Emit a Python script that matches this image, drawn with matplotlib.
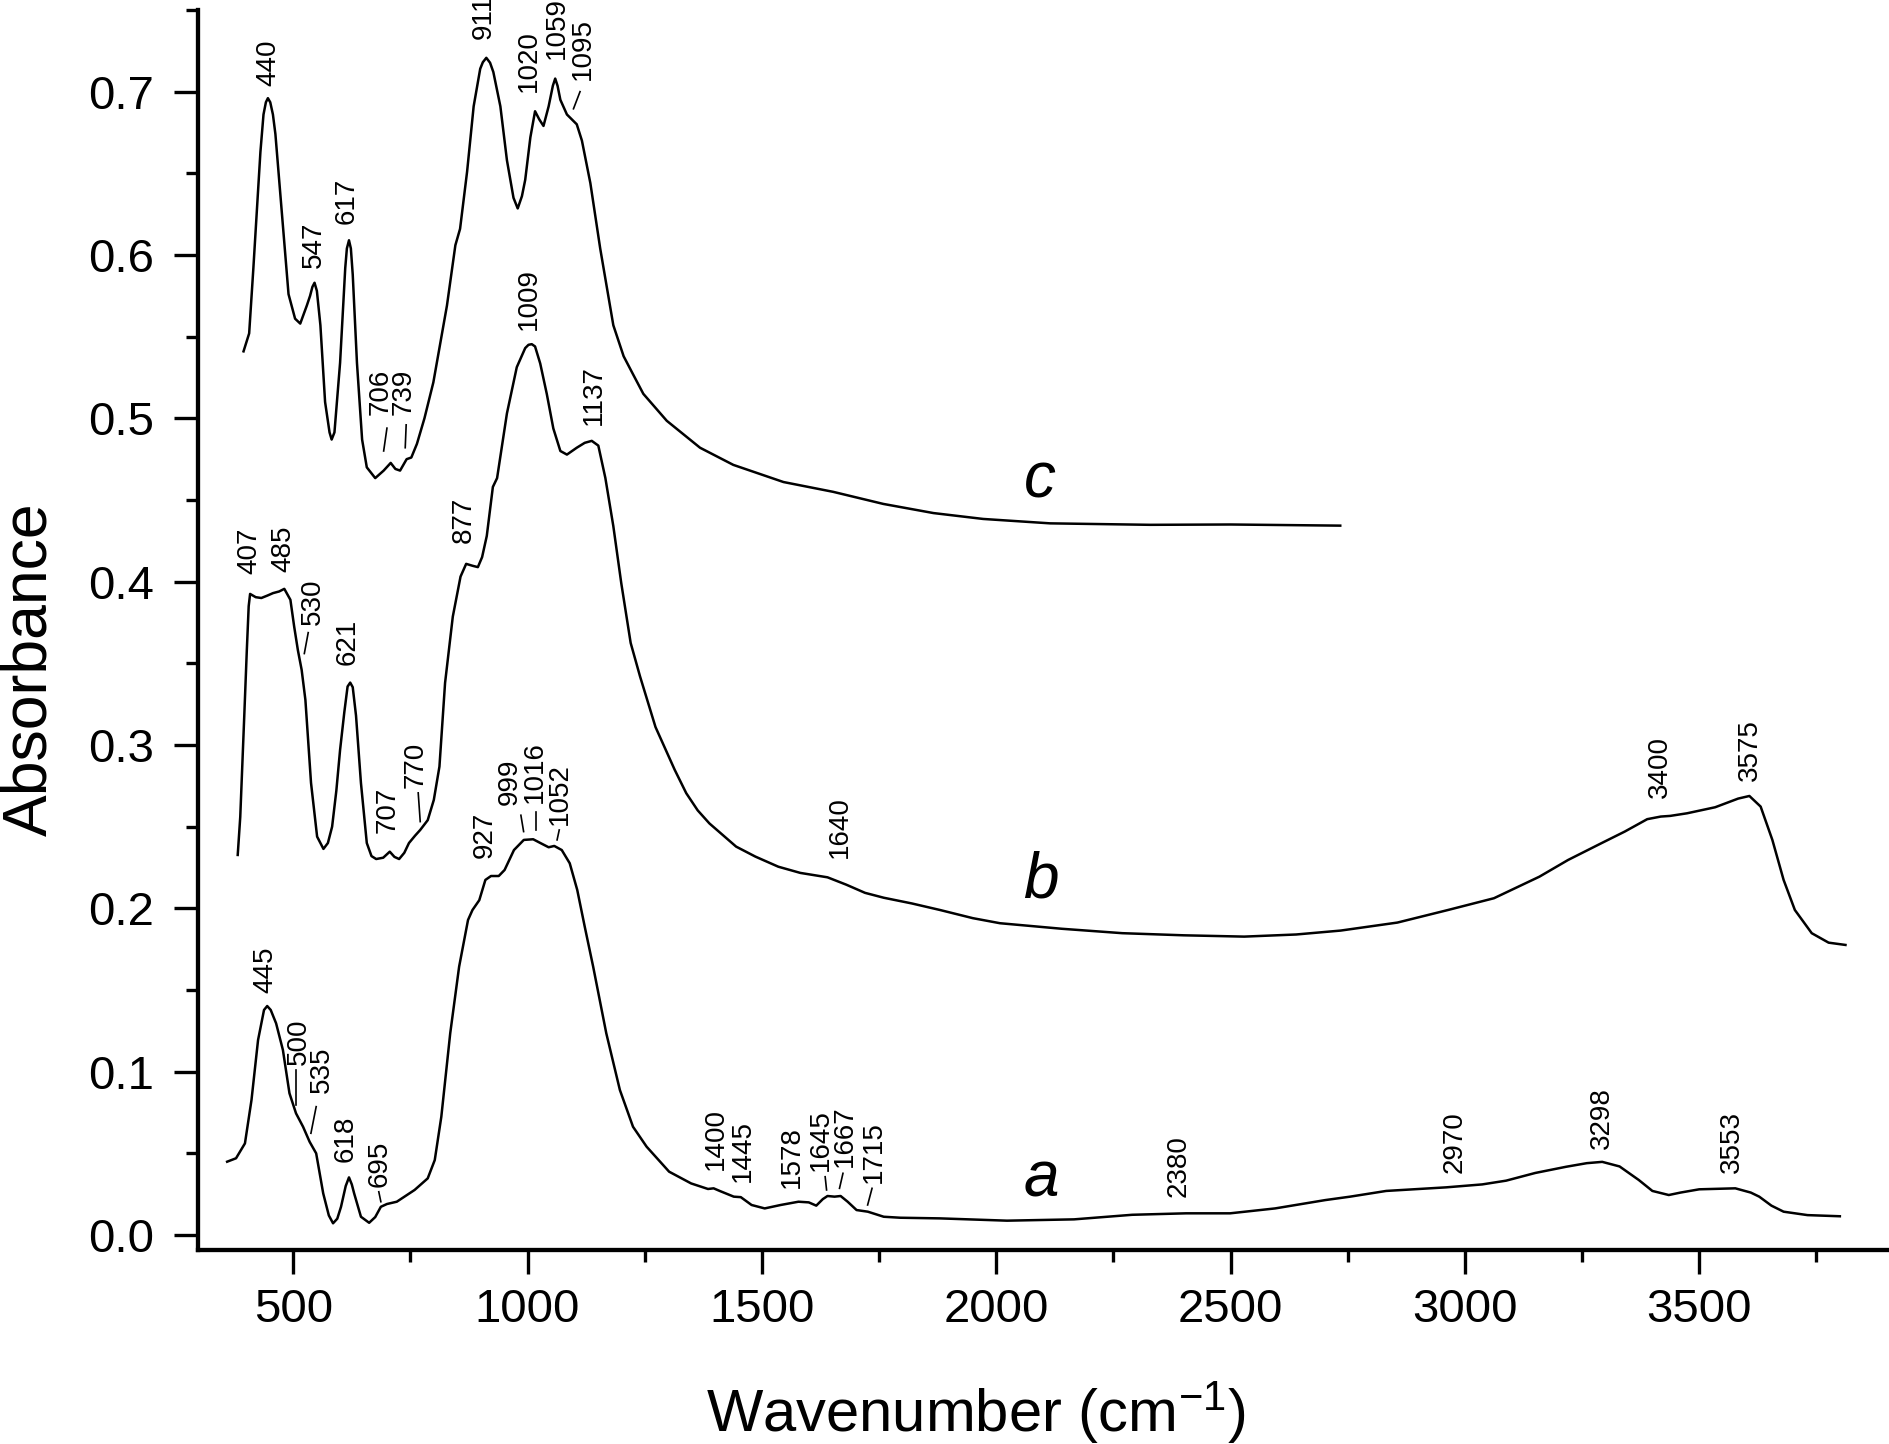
import numpy as np
import matplotlib
matplotlib.use('Agg')
import matplotlib.pyplot as plt
from matplotlib.ticker import MultipleLocator

# spectra: wavenumber (cm-1) and absorbance
wn_a = [359, 378, 397, 411, 425, 437.7, 444.5, 452, 463.5, 478, 492, 506, 521, 535, 549,
        564, 576, 585, 594, 602, 612, 619, 625, 630, 644.5, 662, 675, 687, 700, 721,
        759, 787, 802, 816, 835, 854, 873, 882.5, 897, 910, 922, 938.5, 951, 971, 992,
        1012, 1028, 1045, 1057, 1073, 1090, 1106, 1122, 1140, 1168, 1197, 1225, 1254,
        1302, 1349, 1385, 1397, 1410, 1440, 1455, 1478, 1506, 1540, 1578, 1600, 1616,
        1630, 1640, 1655, 1668, 1683, 1702, 1726, 1760, 1795, 1880, 2023, 2166, 2290,
        2405, 2499, 2595, 2702, 2755, 2832, 2960, 3037, 3088, 3150, 3216, 3260, 3293,
        3330, 3371, 3400, 3435, 3460, 3500, 3577, 3610, 3628, 3654, 3680, 3731, 3800]
abs_a = [0.0449, 0.047, 0.0561, 0.0827, 0.1194, 0.1378, 0.1402, 0.1378, 0.1296, 0.1133,
         0.0868, 0.0745, 0.0663, 0.0571, 0.050, 0.0255, 0.012, 0.0072, 0.010, 0.0173,
         0.030, 0.0353, 0.031, 0.0255, 0.0112, 0.0075, 0.011, 0.0173, 0.019, 0.0204,
         0.0276, 0.0347, 0.0459, 0.0724, 0.1235, 0.1643, 0.1929, 0.199, 0.205, 0.2174,
         0.2198, 0.2198, 0.2235, 0.2357, 0.2419, 0.2423, 0.2399, 0.2374, 0.2382, 0.2357,
         0.2276, 0.2113, 0.1888, 0.1643, 0.1235, 0.0888, 0.0663, 0.0541, 0.0388, 0.0316,
         0.0282, 0.0286, 0.027, 0.0235, 0.0232, 0.0184, 0.0163, 0.0184, 0.0204, 0.020,
         0.018, 0.022, 0.0239, 0.0235, 0.0239, 0.0204, 0.0153, 0.0143, 0.0112, 0.0106,
         0.0102, 0.0088, 0.0096, 0.0124, 0.0133, 0.0133, 0.0163, 0.0214, 0.0235, 0.027,
         0.0292, 0.031, 0.0333, 0.038, 0.0418, 0.044, 0.0448, 0.042, 0.0337, 0.027,
         0.0245, 0.026, 0.028, 0.0286, 0.026, 0.0235, 0.018, 0.0143, 0.0122, 0.0115]

wn_b = [381.6, 387, 395.5, 401, 405, 408, 420, 432, 445, 457, 470, 481, 494, 502, 510,
        518, 526, 538, 551, 564.5, 574, 583, 592, 600, 609, 616, 621.6, 627, 634, 644.5,
        657, 667, 677, 692, 706, 716, 726, 737, 747, 760, 771, 787, 800, 812, 824, 840.5,
        857, 869, 883, 894, 903, 913, 926, 935, 956, 977, 995, 1002, 1009, 1016, 1027,
        1041, 1055, 1070, 1084, 1105, 1122, 1137, 1151, 1166, 1183, 1200, 1220, 1240,
        1273, 1314, 1338.6, 1363, 1388, 1445, 1486, 1535, 1582, 1640, 1680, 1720, 1760,
        1820, 1880, 1950, 2008, 2140, 2269, 2400, 2529, 2640, 2735, 2856, 2964, 3062,
        3159, 3220, 3292, 3341, 3389, 3418, 3438, 3474, 3534, 3583, 3607, 3631, 3656,
        3680, 3704, 3740, 3776, 3812]
abs_b = [0.2327, 0.256, 0.3174, 0.358, 0.385, 0.3925, 0.3905, 0.390, 0.3915, 0.393,
         0.394, 0.3956, 0.3889, 0.3726, 0.358, 0.346, 0.3276, 0.2768, 0.2439, 0.2364,
         0.240, 0.250, 0.272, 0.297, 0.320, 0.3358, 0.3382, 0.3354, 0.318, 0.2768, 0.240,
         0.232, 0.2302, 0.231, 0.2347, 0.2315, 0.2302, 0.234, 0.240, 0.2445, 0.248, 0.254,
         0.2664, 0.2868, 0.338, 0.3786, 0.4031, 0.4109, 0.4097, 0.4089, 0.415, 0.428,
         0.458, 0.4634, 0.503, 0.5313, 0.543, 0.545, 0.5454, 0.544, 0.5336, 0.515, 0.4938,
         0.480, 0.4778, 0.482, 0.485, 0.4862, 0.4833, 0.4635, 0.434, 0.399, 0.3625,
         0.342, 0.311, 0.2848, 0.2705, 0.260, 0.252, 0.2378, 0.2317, 0.2255, 0.2217,
         0.219, 0.2145, 0.2095, 0.2065, 0.203, 0.199, 0.194, 0.1909, 0.1875, 0.1848,
         0.1835, 0.1827, 0.184, 0.1864, 0.1913, 0.199, 0.2062, 0.2194, 0.2296, 0.240,
         0.247, 0.2546, 0.2562, 0.2566, 0.2582, 0.2619, 0.2672, 0.2688, 0.2623, 0.2419,
         0.2174, 0.199, 0.1848, 0.179, 0.1776]

wn_c = [394, 406, 415, 430, 436.6, 441.7, 446, 451, 456.7, 462, 476, 490, 504, 515, 529,
        536, 541, 545.5, 550.5, 558, 568, 577.5, 582, 588, 600, 611, 614.5, 619, 623, 627,
        636, 647, 657, 675, 693, 708, 718, 728, 742, 752, 764, 780, 799, 828, 846, 856,
        871, 885, 899, 904.6, 912, 920, 927, 942, 956, 970, 979, 988, 995, 1006, 1016,
        1025, 1034, 1045, 1054, 1059, 1064, 1070, 1084, 1105, 1116, 1134, 1155, 1183,
        1205, 1225, 1247, 1297, 1368, 1439, 1546, 1652, 1759, 1866, 1972, 2115, 2329,
        2500, 2734]
abs_c = [0.541, 0.552, 0.592, 0.663, 0.686, 0.6935, 0.696, 0.6935, 0.686, 0.674, 0.625,
         0.576, 0.561, 0.558, 0.569, 0.575, 0.5805, 0.583, 0.578, 0.557, 0.510, 0.4914,
         0.487, 0.4914, 0.534, 0.592, 0.604, 0.609, 0.604, 0.588, 0.534, 0.487, 0.470,
         0.4634, 0.468, 0.4727, 0.469, 0.468, 0.475, 0.476, 0.4844, 0.500, 0.522, 0.569,
         0.606, 0.616, 0.651, 0.691, 0.714, 0.718, 0.7207, 0.7177, 0.712, 0.691, 0.658,
         0.635, 0.6285, 0.636, 0.646, 0.672, 0.688, 0.683, 0.679, 0.691, 0.7036, 0.708,
         0.7036, 0.695, 0.686, 0.680, 0.670, 0.644, 0.604, 0.557, 0.538, 0.527, 0.515,
         0.4985, 0.482, 0.4715, 0.461, 0.455, 0.4476, 0.442, 0.4384, 0.4357, 0.4348,
         0.435, 0.4343]

# band labels: text, wavenumber, absorbance at the foot of the label
band_labels = [
    ('440', 447, 0.7036), ('547', 543, 0.592), ('617', 614.5, 0.619),
    ('706', 685.6, 0.502), ('739', 735, 0.502), ('911', 906, 0.732),
    ('1020', 1002, 0.700), ('1059', 1062.6, 0.720), ('1095', 1119, 0.707),
    ('407', 406, 0.405), ('485', 479.5, 0.406), ('530', 542.5, 0.3735),
    ('621', 616, 0.349), ('707', 701.6, 0.246), ('770', 761, 0.2735),
    ('877', 863, 0.4235), ('1009', 1002, 0.554), ('1137', 1140.7, 0.496),
    ('1640', 1667, 0.2306), ('3400', 3417, 0.2674), ('3575', 3608, 0.2782),
    ('445', 439.6, 0.1484), ('500', 511, 0.104), ('535', 560.6, 0.0868),
    ('618', 611, 0.0449), ('695', 684.6, 0.0296), ('927', 909.7, 0.2307),
    ('999', 961, 0.2633), ('1016', 1016, 0.2643), ('1052', 1069, 0.251),
    ('1400', 1401.7, 0.0398), ('1445', 1459, 0.0327), ('1578', 1563.7, 0.0286),
    ('1645', 1625.5, 0.0394), ('1667', 1678, 0.0418), ('1715', 1739.7, 0.0317),
    ('2380', 2390, 0.0235), ('2970', 2977, 0.0378), ('3298', 3293, 0.0525),
    ('3553', 3569, 0.0378),
]

# short leader lines between some labels and the curve
leaders = [
    ((700, 693), (0.494, 0.480)), ((741, 739), (0.496, 0.482)),
    ((1112, 1098), (0.700, 0.6895)), ((532, 523.7), (0.3688, 0.356)),
    ((766.7, 771), (0.2707, 0.2531)), ((506.4, 506.4), (0.101, 0.0796)),
    ((549, 537.8), (0.0786, 0.0623)), ((682.6, 687), (0.0265, 0.0204)),
    ((985.8, 991.6), (0.257, 0.247)), ((1018.5, 1018.5), (0.259, 0.248)),
    ((1067.6, 1063), (0.248, 0.2419)), ((1635, 1638), (0.0357, 0.0276)),
    ((1673, 1665.6), (0.0378, 0.0286)), ((1735, 1725.6), (0.0286, 0.0184)),
]

# curve names and where they sit
curve_names = [('a', 2096, 0.0235), ('b', 2096, 0.2064), ('c', 2094, 0.4516)]


def setupStyle():
    plt.rcParams['font.family'] = ['Liberation Sans', 'DejaVu Sans']
    plt.rcParams['mathtext.fontset'] = 'custom'
    plt.rcParams['mathtext.rm'] = 'Liberation Sans'
    plt.rcParams['mathtext.it'] = 'Liberation Sans:italic'


def makeGraph():
    fig = plt.figure(figsize=(18.9, 14.44), dpi=100)
    ax = fig.add_axes([0.1048, 0.1343, 0.8952, 0.8588])

    for wn, ab in [(wn_a, abs_a), (wn_b, abs_b), (wn_c, abs_c)]:
        ax.plot(wn, ab, color='black', lw=1.8, solid_joinstyle='round')

    for txt, x, y in band_labels:
        ax.text(x, y, txt, rotation=90, ha='center', va='bottom', fontsize=20)

    for xs, ys in leaders:
        ax.plot(xs, ys, color='black', lw=1.2)

    for name, x, y in curve_names:
        ax.text(x, y, name, fontsize=46, style='italic', ha='center', va='baseline')

    ax.set_xlim(297, 3907)
    ax.set_ylim(-0.0092, 0.75)
    ax.xaxis.set_major_locator(MultipleLocator(500))
    ax.xaxis.set_minor_locator(MultipleLocator(250))
    ax.set_yticks(np.arange(0, 0.71, 0.1))
    ax.yaxis.set_minor_locator(MultipleLocator(0.05))

    ax.spines['top'].set_visible(False)
    ax.spines['right'].set_visible(False)
    ax.spines['left'].set_linewidth(3.1)
    ax.spines['bottom'].set_linewidth(3.1)
    ax.tick_params(which='major', direction='out', length=17.6, width=2.4,
                   labelsize=34)
    ax.tick_params(which='minor', direction='out', length=8.5, width=2.4)
    ax.tick_params(axis='x', which='major', pad=10)
    ax.tick_params(axis='y', which='major', pad=14)

    ax.set_xlabel(r'Wavenumber (cm$^{-1}$)', fontsize=43, va='baseline')
    ax.xaxis.set_label_coords(0.4598, -0.1465)
    ax.set_ylabel('Absorbance', fontsize=45, va='center')
    ax.yaxis.set_label_coords(-0.0993, 0.4685)

    fig.savefig('out.png', dpi=100)


if __name__ == '__main__':
    setupStyle()
    makeGraph()
